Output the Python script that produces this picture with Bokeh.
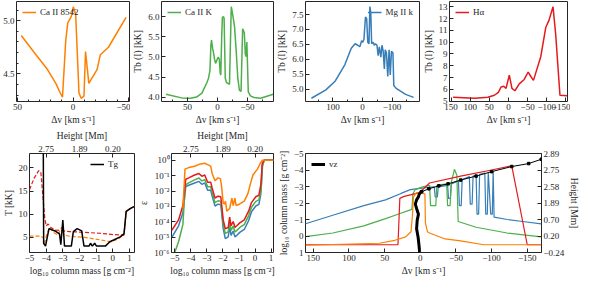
import numpy as np
from bokeh.plotting import figure
from bokeh.models import Range1d, FixedTicker, LinearAxis, CustomJSTickFormatter
from bokeh.layouts import row, column
from bokeh.embed import file_html
from bokeh.resources import INLINE

# ---------------- data ----------------
# Ca II 8542
v_8542 = [46.7, 35, 23, 15.5, 11.5, 9.5, 8, 6.5, 4.7, 1.5, -0.3, -2.4, -5.4, -7.4, -9.9, -11.3, -14.3, -21.7, -24.7, -32, -47.9]
tb_8542 = [4.86, 4.70, 4.54, 4.41, 4.32, 4.28, 4.55, 4.82, 4.98, 5.04, 5.13, 5.06, 4.32, 4.27, 4.29, 4.71, 4.41, 4.54, 4.68, 4.75, 5.03]
# Ca II K
v_cak = [86, 60, 45, 35, 26, 18, 15, 12.6, 11, 10, 8, 7, 5, 3.3, 1, -1, -3, -4.5, -5.5, -7, -8.2, -10, -11, -13, -15, -20, -23, -25.7, -28.4, -31, -33.9, -36.6, -39.3, -42, -44.8, -46.4, -47.5, -49, -51.4, -55, -61, -72, -93]
tb_cak = [4.07, 3.98, 3.97, 4.0, 4.10, 4.35, 4.47, 4.66, 5.29, 5.42, 5.2, 5.14, 4.95, 4.84, 4.92, 4.99, 4.95, 4.6, 4.55, 5.5, 5.99, 6.0, 5.97, 4.47, 4.36, 4.32, 6.25, 6.02, 5.76, 5.2, 4.47, 4.17, 4.14, 5.70, 5.6, 5.08, 5.01, 5.37, 4.13, 4.03, 3.99, 3.97, 4.07]
# Mg II k
v_mgk = [173, 124, 92, 59.5, 38, 25, 16, 9, 3, -1, -5, -10, -14, -18, -22, -25, -28, -31, -36, -40, -44, -49, -53, -57, -62, -66, -70, -74, -77, -81, -85.5, -90, -94, -98, -103, -106, -114, -146, -173]
tb_mgk = [4.69, 4.97, 5.27, 5.82, 6.37, 6.52, 6.47, 6.42, 6.62, 6.57, 6.67, 7.42, 7.37, 6.57, 6.52, 7.77, 7.57, 6.52, 6.57, 6.47, 6.52, 6.47, 6.12, 6.42, 6.07, 6.47, 6.27, 5.67, 6.32, 6.22, 5.42, 6.32, 5.47, 6.27, 6.22, 5.12, 5.02, 4.82, 4.72]
# H alpha
v_ha = [144.6, 88.6, 54, 36.8, 26.4, 19.4, 12.5, 6.5, -2.1, -9, -16.8, -28, -41, -51.4, -58.3, -65.2, -73, -84.2, -97.2, -105.8, -116.2, -123, -134.3, -153.3]
tb_ha = [5.33, 5.25, 5.33, 5.5, 5.75, 6.2, 6.26, 6.08, 7.2, 6.08, 5.88, 6.46, 6.84, 7.47, 7.09, 6.76, 7.59, 8.77, 11.24, 11.87, 13.0, 10.74, 5.5, 5.45]

# Temperature panel (log10 column mass, kK)
cm_tg = [-4.19, -4.15, -4.04, -3.83, -3.47, -3.2, -3.12, -3.0, -2.9, -2.49, -2.37, -2.14, -1.87, -1.73, -1.43, -1.34, -1.23, -1.09, -0.98, -0.45, -0.18, 0.08, 0.44, 0.67, 0.8, 1.06, 1.33]
t_g = [40, 3.75, 3.13, 6.9, 6.4, 5.75, 3.44, 8.75, 3.13, 3.13, 6.25, 6.9, 6.4, 3.13, 3.13, 3.75, 3.13, 3.75, 3.13, 3.13, 4.06, 4.5, 5.13, 5.75, 10.6, 11.25, 11.75]
cm_tred = [-5.0, -4.72, -4.45, -4.32, -4.18, -4.09, -4.0, -3.88, -3.74, -3.47, -2.58, -1.69, -0.8, 0.08, 0.67, 0.8, 1.06, 1.33]
t_red = [15.3, 17.8, 19.4, 19.1, 13.1, 9.4, 7.5, 7.9, 7.2, 6.6, 6.25, 6.1, 5.9, 5.6, 5.5, 10.6, 11.25, 11.75]
cm_torg = [-5.0, -4.36, -4.18, -4.09, -3.97, -3.79, -3.56, -3.29, -3.08, -2.94, -2.58, -1.69, -0.8, -0.09, 0.35, 0.67, 0.8, 1.06, 1.33]
t_org = [5.3, 5.3, 5.0, 3.9, 5.6, 7.2, 6.1, 5.5, 7.2, 5.5, 5.25, 5.0, 4.5, 4.06, 4.7, 5.75, 10.6, 11.25, 11.75]

# epsilon panel (log10 column mass, log10 epsilon)
cm_e = [-5.18, -4.76, -4.49, -4.31, -4.13, -3.76, -3.49, -3.31, -3.13, -2.95, -2.76, -2.67, -2.49, -2.31, -2.13, -1.98, -1.85, -1.67, -1.58, -1.49, -1.36, -1.25, -1.13, -0.95, -0.67, -0.40, -0.22, 0.05, 0.24, 0.36, 0.45, 0.56, 1.15]
le_red = [-4.55, -3.88, -2.94, -1.23, -1.14, -0.95, -0.85, -1.04, -0.95, -1.42, -1.42, -1.80, -2.46, -2.33, -2.37, -3.88, -4.45, -4.36, -3.69, -4.26, -3.98, -4.36, -4.26, -4.07, -3.88, -3.31, -2.75, -2.37, -2.27, -1.60, -0.19, 0.0, 0.0]
cm_eg = [-5.0, -4.76, -4.49, -4.35, -4.13, -3.76, -3.49, -3.31, -3.13, -2.95, -2.76, -2.67, -2.49, -2.31, -2.13, -1.98, -1.85, -1.67, -1.58, -1.49, -1.36, -1.25, -1.13, -0.95, -0.67, -0.40, -0.22, 0.05, 0.24, 0.38, 0.47, 0.58, 1.15]
le_green = [-6.0, -5.3, -4.17, -1.61, -1.47, -1.27, -1.15, -1.34, -1.25, -1.72, -1.72, -2.10, -2.76, -2.63, -2.67, -4.18, -4.75, -4.66, -3.99, -4.56, -4.28, -4.66, -4.56, -4.37, -4.18, -3.61, -3.05, -2.67, -2.57, -1.90, -0.30, 0.0, 0.0]
le_blue = [-5.02, -4.26, -3.41, -1.70, -1.62, -1.47, -1.37, -1.56, -1.47, -1.94, -1.94, -2.32, -2.98, -2.85, -2.89, -4.45, -5.10, -4.98, -4.31, -4.88, -4.60, -4.98, -4.88, -4.69, -4.50, -3.93, -3.35, -2.97, -2.87, -2.20, -0.40, 0.0, 0.0]
cm_eo = [-4.49, -4.36, -4.13, -3.76, -3.40, -3.13, -2.95, -2.76, -2.67, -2.49, -2.31, -2.16, -2.09, -1.98, -1.89, -1.84, -1.76, -1.58, -1.44, -1.36, -1.25, -1.18, -0.95, -0.67, -0.45, -0.31, -0.13, 0.15, 0.33, 0.45, 1.15]
le_org = [-3.13, -0.57, -0.47, -0.38, -0.23, -0.19, -0.28, -0.38, -0.85, -1.33, -1.14, -1.19, -1.61, -2.78, -2.84, -2.65, -3.31, -3.13, -2.46, -2.94, -2.46, -2.94, -2.84, -2.65, -2.18, -1.61, -0.95, -0.57, -0.19, 0.0, 0.0]

# tau=1 / velocity panel (Delta v, log10 column mass)
v_b = [161, 122.7, 79.2, 48.7, 27, 14, 0.9, -12, -19.6, -20.9, -23.9, -25.2, -38.3, -39.6, -42.2, -43.5, -53.5, -54.8, -57.4, -58.7, -68.8, -70.1, -72.7, -74, -78.3, -79.6, -81.8, -83.2, -90.5, -91.8, -94, -95.3, -98.8, -101, -102.2, -103.5, -121.8, -143.6, -169.7]
cm_b = [-0.74, -1.26, -1.84, -2.19, -2.58, -2.81, -2.89, -2.95, -2.98, -2.37, -2.37, -2.98, -3.07, -2.28, -2.28, -3.16, -3.33, -1.84, -1.84, -3.42, -3.60, -1.93, -1.93, -3.63, -3.68, -1.32, -1.32, -3.74, -3.82, -1.32, -1.32, -3.86, -1.32, -1.32, -3.95, -1.14, -1.0, -0.88, -0.74]
v_g = [161, 122.7, 79.2, 48.7, 31.3, 14, 11.7, 10.4, 7.4, -3.5, -13, -14.4, -21.8, -23.1, -37, -38.3, -41.8, -43.5, -47.9, -51.3, -53.1, -78.3, -121.8, -169.7]
cm_g = [0.04, -0.18, -0.61, -1.05, -1.32, -1.58, -1.63, -2.54, -2.81, -2.98, -3.07, -1.84, -1.84, -3.07, -3.16, -1.84, -1.84, -3.25, -4.04, -3.68, -0.88, -0.53, -0.18, 0.05]
v_r = [161, 31.3, 28.7, 22.6, 0.9, -13, -56.6, -100, -128.3, -150, -169.7]
cm_r = [0.53, 0.53, -2.28, -2.40, -2.63, -3.21, -3.63, -4.0, -4.25, 0.53, 0.53]
v_o = [161, 57.4, 35.7, 20.4, 13, 10.9, 9.6, 5.2, -1.3, -6.5, -7.2, -10, -13, -34.8, -56.6, -89.2, -169.7]
cm_o = [0.56, 0.44, 0.26, 0.05, -0.26, -1.32, -2.37, -2.63, -2.63, -2.54, -0.79, -0.26, -0.18, 0.18, 0.30, 0.53, 0.53]
v_vz = [0.9, 1.7, 3, 5.2, 4.3, 2.6, 5.2, 7, 5.2, 2.6, 1.7, 0, -3.5]
cm_vz = [1.0, 0.61, 0.09, -0.44, -0.96, -1.32, -1.67, -1.93, -2.19, -2.37, -2.51, -2.63, -2.75]
v_k = [-1.7, -12, -26, -39, -56.6, -78.3, -100, -128.3, -152, -169.7]
cm_k = [-2.68, -2.86, -3.04, -3.16, -3.39, -3.63, -3.90, -4.21, -4.39, -4.65]

height_ticks = [-5, -4, -3, -2, -1, 0, 1]
height_labels = ["2.89", "2.75", "2.58", "1.89", "0.70", "0.20", "\u22120.24"]
top_ticks = [-4, -2, 0]
top_labels = ["2.75", "1.89", "0.20"]

# ---------------- style ----------------
FONT = "Liberation Serif"
TXT = "#262626"
RED, BLUE, GREEN, ORANGE = "#e41a1c", "#377eb8", "#4daf4a", "#ff7f00"


def num_fmt(d):
    return CustomJSTickFormatter(args=dict(d=d), code="return tick.toFixed(d).replace('-', '\u2212');")


def lookup_fmt(ticks, labels):
    return CustomJSTickFormatter(args=dict(t=ticks, l=labels),
                                 code="for (let i = 0; i < t.length; i++) { if (Math.abs(t[i] - tick) < 1e-6) return l[i]; } return '';")


def style_axis(ax):
    ax.major_tick_in = 4
    ax.major_tick_out = 0
    ax.minor_tick_in = 2
    ax.minor_tick_out = 0
    ax.major_tick_line_color = TXT
    ax.minor_tick_line_color = TXT
    ax.axis_line_color = None
    ax.major_label_text_font = FONT
    ax.major_label_text_font_size = "9px"
    ax.major_label_text_color = TXT
    ax.axis_label_text_font = FONT
    ax.axis_label_text_font_size = "9.5px"
    ax.axis_label_text_font_style = "normal"
    ax.axis_label_text_color = TXT
    ax.major_label_standoff = 2
    ax.axis_label_standoff = 2


def mkfig(w, h, xr, yr, bl, br, bt, bb, ylog=False):
    kw = dict(width=w, height=h, x_range=Range1d(*xr), y_range=Range1d(*yr),
              output_backend="svg", toolbar_location=None,
              min_border_left=bl, min_border_right=br, min_border_top=bt, min_border_bottom=bb)
    if ylog:
        kw["y_axis_type"] = "log"
    p = figure(**kw)
    p.xgrid.visible = False
    p.ygrid.visible = False
    p.outline_line_color = TXT
    p.outline_line_width = 1
    for ax in p.axis:
        style_axis(ax)
    return p


def style_legend(p, loc):
    lg = p.legend[0]
    lg.location = loc
    lg.background_fill_alpha = 0
    lg.border_line_alpha = 0
    lg.label_text_font = FONT
    lg.label_text_font_size = "9px"
    lg.label_text_color = TXT
    lg.glyph_width = 14
    lg.glyph_height = 8
    lg.label_standoff = 4
    lg.padding = 2
    lg.margin = 4
    lg.spacing = 0
    lg.label_height = 10


XLAB = "\u0394v [km s\u207b\u00b9]"
TBLAB = "Tb (I) [kK]"
CMLAB = "log\u2081\u2080 column mass [g cm\u207b\u00b2]"

# ---------------- top row ----------------
p1 = mkfig(130, 127, (51, -51), (4.24, 5.18), 14, 1, 1, 25)
p1.line(v_8542, tb_8542, color=ORANGE, line_width=1.5, legend_label="Ca II 8542")
p1.xaxis.ticker = FixedTicker(ticks=[50, 0, -50], minor_ticks=[40, 30, 20, 10, -10, -20, -30, -40])
p1.xaxis.formatter = num_fmt(0)
p1.xaxis.axis_label = XLAB
p1.yaxis.ticker = FixedTicker(ticks=[4.5, 5.0], minor_ticks=[4.3, 4.4, 4.6, 4.7, 4.8, 4.9, 5.1])
p1.yaxis.formatter = num_fmt(1)
style_legend(p1, "top_left")

p2 = mkfig(144, 127, (93.5, -93.5), (3.89, 6.38), 29, 1, 1, 25)
p2.line(v_cak, tb_cak, color=GREEN, line_width=1.5, legend_label="Ca II K")
p2.xaxis.ticker = FixedTicker(ticks=[50, 0, -50], minor_ticks=[75, 25, -25, -75])
p2.xaxis.formatter = num_fmt(0)
p2.xaxis.axis_label = XLAB
p2.yaxis.ticker = FixedTicker(ticks=[4.0, 4.5, 5.0, 5.5, 6.0])
p2.yaxis.formatter = num_fmt(1)
p2.yaxis.axis_label = TBLAB
style_legend(p2, "top_left")

p3 = mkfig(146, 127, (193, -193), (4.58, 7.94), 27, 1, 1, 25)
p3.line(v_mgk, tb_mgk, color=BLUE, line_width=1.5, legend_label="Mg II k")
p3.xaxis.ticker = FixedTicker(ticks=[100, 0, -100], minor_ticks=[150, 50, -50, -150])
p3.xaxis.formatter = num_fmt(0)
p3.xaxis.axis_label = XLAB
p3.yaxis.ticker = FixedTicker(ticks=[5.0, 5.5, 6.0, 6.5, 7.0, 7.5])
p3.yaxis.formatter = num_fmt(1)
p3.yaxis.axis_label = TBLAB
style_legend(p3, "top_right")

p4 = mkfig(150, 127, (154, -154), (4.97, 13.45), 28, 3, 1, 25)
p4.line(v_ha, tb_ha, color=RED, line_width=1.5, legend_label="H\u03b1")
p4.xaxis.ticker = FixedTicker(ticks=[150, 100, 50, 0, -50, -100, -150])
p4.xaxis.formatter = num_fmt(0)
p4.xaxis.axis_label = XLAB
p4.yaxis.ticker = FixedTicker(ticks=[5, 6, 7, 8, 9, 10, 11, 12, 13])
p4.yaxis.formatter = num_fmt(0)
p4.yaxis.axis_label = TBLAB
style_legend(p4, "top_left")

# ---------------- bottom row ----------------
def add_height_top(p):
    ax = LinearAxis(ticker=FixedTicker(ticks=top_ticks), formatter=lookup_fmt(top_ticks, top_labels),
                    axis_label="Height [Mm]")
    style_axis(ax)
    p.add_layout(ax, "above")


p5 = mkfig(136, 151, (-5.0, 1.3), (1.75, 23.1), 24, 2, 22, 25)
p5.line(cm_tred, t_red, color=RED, line_width=1.2, line_dash="4 2")
p5.line(cm_torg, t_org, color=ORANGE, line_width=1.2, line_dash="4 2")
p5.line(cm_tg, t_g, color="black", line_width=1.5, legend_label="Tg")
p5.xaxis.ticker = FixedTicker(ticks=[-5, -4, -3, -2, -1, 0, 1])
p5.xaxis.formatter = num_fmt(0)
p5.xaxis.axis_label = CMLAB
p5.yaxis.ticker = FixedTicker(ticks=[5, 10, 15, 20])
p5.yaxis.formatter = num_fmt(0)
p5.yaxis.axis_label = "T [kK]"
add_height_top(p5)
style_legend(p5, "top_right")

p6 = mkfig(139, 151, (-5.2, 1.15), (1e-6, 2.8), 27, 2, 22, 25, ylog=True)
p6.line(cm_e, 10 ** np.array(le_blue), color=BLUE, line_width=1.5)
p6.line(cm_eg, 10 ** np.array(le_green), color=GREEN, line_width=1.5)
p6.line(cm_e, 10 ** np.array(le_red), color=RED, line_width=1.5)
p6.line(cm_eo, 10 ** np.array(le_org), color=ORANGE, line_width=1.5)
p6.xaxis.ticker = FixedTicker(ticks=[-5, -4, -3, -2, -1, 0, 1])
p6.xaxis.formatter = num_fmt(0)
p6.xaxis.axis_label = CMLAB
p6.yaxis.ticker = FixedTicker(ticks=[1e-6, 1e-5, 1e-4, 1e-3, 1e-2, 1e-1, 1.0])
p6.yaxis.formatter = CustomJSTickFormatter(code="""
const e = Math.round(Math.log10(tick));
const sup = {'-': '\u207b', '0': '\u2070', '1': '\u00b9', '2': '\u00b2', '3': '\u00b3', '4': '\u2074', '5': '\u2075', '6': '\u2076', '7': '\u2077', '8': '\u2078', '9': '\u2079'};
return '10' + String(e).split('').map(c => sup[c]).join('');
""")
p6.yaxis.axis_label = "\u03b5"
add_height_top(p6)

p7 = mkfig(307, 151, (161, -170), (1, -5), 26, 35, 22, 25)
p7.line(v_b, cm_b, color=BLUE, line_width=1.2)
p7.line(v_g, cm_g, color=GREEN, line_width=1.2)
p7.line(v_r, cm_r, color=RED, line_width=1.2)
p7.line(v_o, cm_o, color=ORANGE, line_width=1.2)
p7.line(v_k, cm_k, color="black", line_width=1)
p7.scatter(v_k, cm_k, marker="square", size=2.5, color="black")
p7.line(v_vz, cm_vz, color="black", line_width=3, legend_label="vz")
p7.xaxis.ticker = FixedTicker(ticks=[150, 100, 50, 0, -50, -100, -150])
p7.xaxis.formatter = num_fmt(0)
p7.xaxis.axis_label = XLAB
p7.yaxis.ticker = FixedTicker(ticks=height_ticks)
p7.yaxis.formatter = num_fmt(0)
p7.yaxis.axis_label = CMLAB
rax = LinearAxis(ticker=FixedTicker(ticks=height_ticks), formatter=lookup_fmt(height_ticks, height_labels),
                 axis_label="Height [Mm]")
style_axis(rax)
p7.add_layout(rax, "right")
style_legend(p7, "top_left")

layout = column(row(p1, p2, p3, p4), row(p5, p6, p7))
open("out.html", "w").write(file_html(layout, INLINE))
